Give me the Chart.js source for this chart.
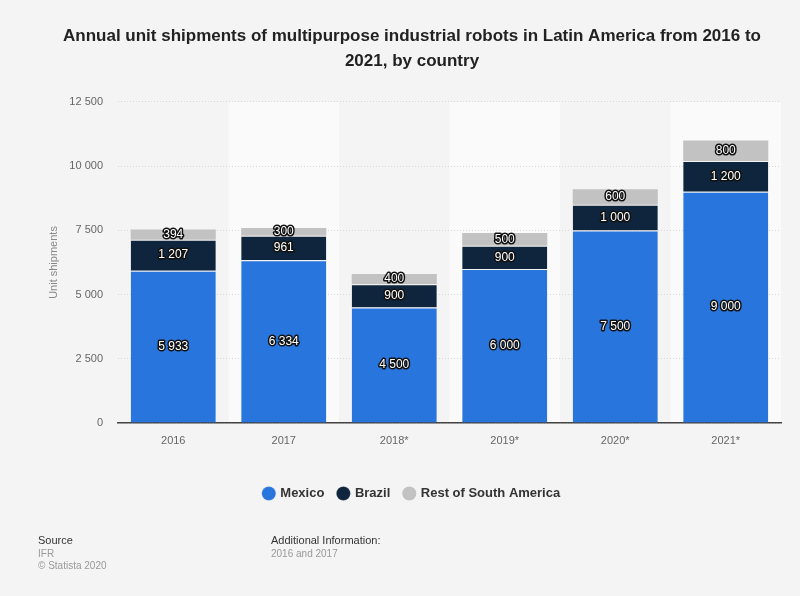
<!DOCTYPE html>
<html>
<head>
<meta charset="utf-8">
<script src="https://cdn.jsdelivr.net/npm/chart.js@4.4.0/dist/chart.umd.min.js"></script>
<style>
  html, body { margin: 0; padding: 0; background: #f4f4f4; }
  #wrap { width: 800px; height: 596px; position: relative; }
</style>
</head>
<body>
<div id="wrap"><canvas id="chart"></canvas></div>
<script>
const years = ["2016", "2017", "2018*", "2019*", "2020*", "2021*"];
const mexico = [5933, 6334, 4500, 6000, 7500, 9000];
const brazil = [1207, 961, 900, 900, 1000, 1200];
const restOfSouthAmerica = [394, 300, 400, 500, 600, 800];
const yTicks = [0, 2500, 5000, 7500, 10000, 12500];

const FONT = "'Liberation Sans', Arial, sans-serif";

// 12500 -> "12 500"
const fmt = (v) => String(v).replace(/\B(?=(\d{3})+(?!\d))/g, " ");

// light stripes behind every second category
const bandsPlugin = {
  id: "bands",
  beforeDraw(chart) {
    const { ctx, chartArea, scales } = chart;
    const x = scales.x;
    ctx.save();
    ctx.fillStyle = "#fafafa";
    years.forEach((y, i) => {
      if (i % 2 === 1) {
        const c = x.getPixelForValue(i);
        const half = (x.getPixelForValue(1) - x.getPixelForValue(0)) / 2;
        ctx.fillRect(c - half, chartArea.top, half * 2, chartArea.bottom - chartArea.top);
      }
    });
    ctx.restore();
  },
};

// value labels in the middle of each segment
const valueLabels = {
  id: "valueLabels",
  afterDatasetsDraw(chart) {
    const ctx = chart.ctx;
    ctx.save();
    ctx.font = "12px " + FONT;
    ctx.textAlign = "center";
    ctx.textBaseline = "middle";
    ctx.lineJoin = "round";
    chart.data.datasets.forEach((ds, di) => {
      const meta = chart.getDatasetMeta(di);
      meta.data.forEach((bar, i) => {
        const p = bar.getCenterPoint();
        const txt = fmt(ds.data[i]);
        ctx.lineWidth = 3;
        ctx.strokeStyle = "#111";
        ctx.strokeText(txt, p.x, p.y);
        ctx.fillStyle = "#fff";
        ctx.fillText(txt, p.x, p.y);
      });
    });
    ctx.restore();
  },
};

// source / additional info block
const footer = {
  id: "footer",
  afterDraw(chart) {
    const ctx = chart.ctx;
    ctx.save();
    ctx.textBaseline = "middle";
    ctx.textAlign = "left";
    ctx.font = "11px " + FONT;
    ctx.fillStyle = "#333";
    ctx.fillText("Source", 38, 541);
    ctx.fillText("Additional Information:", 271, 541);
    ctx.font = "10px " + FONT;
    ctx.fillStyle = "#999";
    ctx.fillText("IFR", 38, 554);
    ctx.fillText("© Statista 2020", 38, 566);
    ctx.fillText("2016 and 2017", 271, 554);
    ctx.restore();
  },
};

new Chart(document.getElementById("chart"), {
  type: "bar",
  data: {
    labels: years,
    datasets: [
      {
        label: "Mexico",
        data: mexico,
        backgroundColor: "#2876dd",
        borderColor: "#f4f4f4",
        borderWidth: { top: 1 },
        borderSkipped: "bottom",
      },
      {
        label: "Brazil",
        data: brazil,
        backgroundColor: "#0e253d",
        borderColor: "#f4f4f4",
        borderWidth: { top: 1 },
        borderSkipped: "bottom",
      },
      {
        label: "Rest of South America",
        data: restOfSouthAmerica,
        backgroundColor: "#c2c2c2",
        borderWidth: 0,
      },
    ],
  },
  options: {
    responsive: true,
    maintainAspectRatio: false,
    animation: false,
    barPercentage: 0.77,
    categoryPercentage: 1,
    layout: {
      padding: { top: 2, left: 43, right: 19, bottom: 86 },
    },
    scales: {
      x: {
        stacked: true,
        grid: { display: false },
        border: { display: true, color: "#444", width: 1.5 },
        ticks: { color: "#666", font: { size: 11, family: FONT }, padding: 3 },
        afterFit(scale) {
          scale.height = 50;
        },
      },
      y: {
        stacked: true,
        min: 0,
        max: 12500,
        afterBuildTicks(scale) {
          scale.ticks = yTicks.map((v) => ({ value: v }));
        },
        afterFit(scale) {
          scale.width = 75;
        },
        grid: { color: "#d8d8d8", drawTicks: false },
        border: { display: false, dash: [1, 2] },
        ticks: {
          color: "#666",
          font: { size: 11, family: FONT },
          padding: 15,
          callback: (v) => fmt(v),
        },
        title: {
          display: true,
          text: "Unit shipments",
          color: "#888",
          font: { size: 11, family: FONT },
        },
      },
    },
    plugins: {
      title: {
        display: true,
        text: [
          "Annual unit shipments of multipurpose industrial robots in Latin America from 2016 to",
          "2021, by country",
        ],
        color: "#222",
        font: { size: 17, weight: "bold", family: FONT, lineHeight: 1.47 },
        padding: { top: 22, bottom: 28 },
      },
      legend: {
        position: "bottom",
        labels: {
          usePointStyle: true,
          pointStyle: "circle",
          boxWidth: 10,
          boxHeight: 10,
          padding: 14,
          color: "#333",
          font: { size: 13, weight: "bold", family: FONT },
        },
      },
      tooltip: { enabled: false },
    },
  },
  plugins: [bandsPlugin, valueLabels, footer],
});
</script>
</body>
</html>
